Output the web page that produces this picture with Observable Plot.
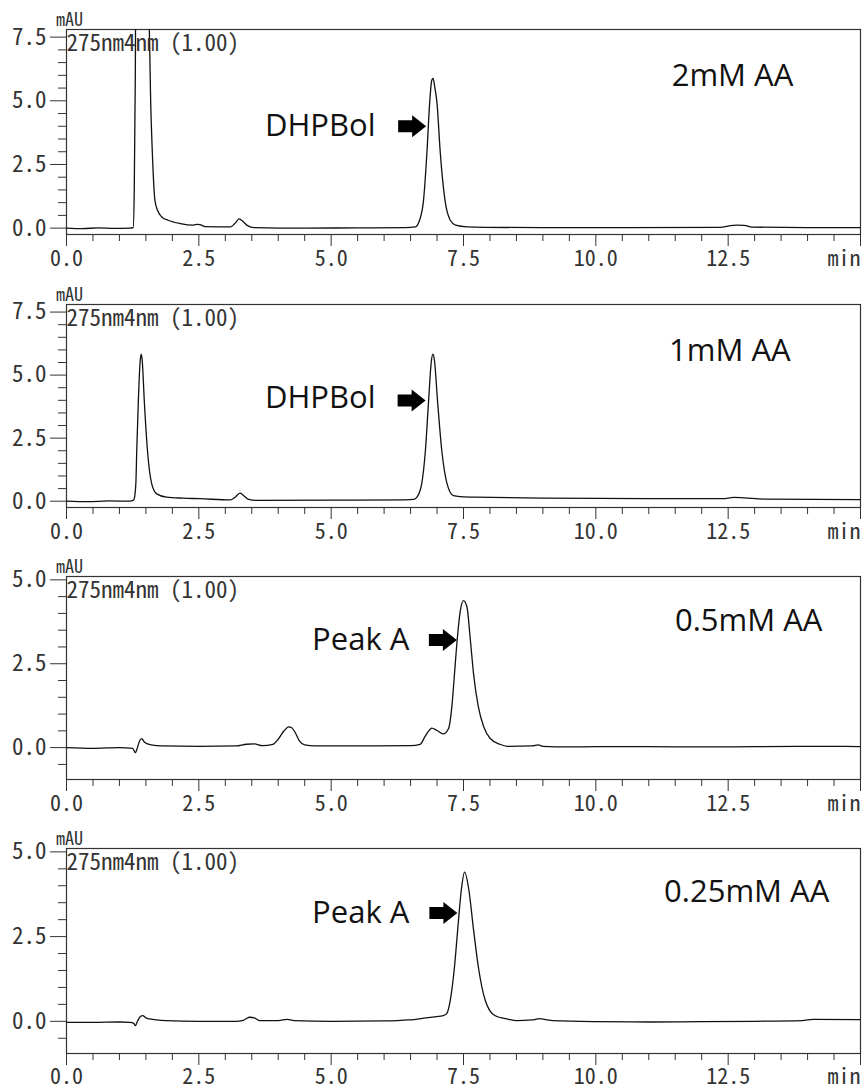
<!DOCTYPE html>
<html><head><meta charset="utf-8">
<script src="https://cdn.jsdelivr.net/npm/d3@7"></script>
<script src="https://cdn.jsdelivr.net/npm/@observablehq/plot@0.6"></script>
<style>
body{margin:0;background:#fff;}
#chart{width:864px;}
#chart svg{display:block;}
</style></head><body><div id="chart"></div>
<script>
// ---- data: [time (min), absorbance (mAU)] ----
const trace2mM = [[0,0.0],[0.3,-0.02],[0.6,0.01],[0.9,-0.01],[1.2,0.0],[1.26,0.02],[1.28,1.5],[1.30,6.0],[1.31,10],[1.55,10],[1.565,7.8],[1.59,5.0],[1.62,3.06],[1.67,1.1],[1.72,0.7],[1.80,0.44],[1.92,0.31],[2.15,0.18],[2.40,0.12],[2.47,0.15],[2.52,0.14],[2.62,0.06],[3.10,0.05],[3.18,0.18],[3.26,0.36],[3.34,0.25],[3.42,0.1],[3.55,0.02],[4.5,0.0],[5.5,0.01],[6.4,0.02],[6.59,0.05],[6.67,0.31],[6.745,1.1],[6.81,3.0],[6.86,4.9],[6.90,5.8],[6.925,5.88],[6.96,5.5],[7.0,4.9],[7.06,3.0],[7.15,1.1],[7.25,0.31],[7.35,0.12],[7.57,0.05],[7.9,0.03],[9,0.02],[10.5,0.02],[12.35,0.03],[12.5,0.08],[12.65,0.12],[12.8,0.11],[12.95,0.04],[14,0.02],[15,0.02]];
const trace1mM = [[0,0.0],[0.4,-0.02],[0.8,0.01],[1.2,0.0],[1.26,0.03],[1.28,0.1],[1.31,0.69],[1.327,2.0],[1.357,3.96],[1.39,5.5],[1.41,5.83],[1.43,5.6],[1.47,3.96],[1.53,2.0],[1.61,0.69],[1.705,0.29],[1.89,0.16],[2.2,0.12],[2.52,0.1],[3.1,0.05],[3.18,0.15],[3.28,0.32],[3.36,0.2],[3.44,0.07],[3.6,0.03],[5,0.04],[6.4,0.05],[6.56,0.07],[6.62,0.16],[6.71,0.69],[6.78,2.0],[6.84,3.96],[6.89,5.5],[6.92,5.83],[6.95,5.6],[7.01,3.96],[7.09,2.0],[7.19,0.69],[7.31,0.22],[7.5,0.17],[7.69,0.16],[9,0.12],[11,0.1],[12.4,0.1],[12.6,0.15],[12.8,0.13],[13.2,0.08],[15,0.06]];
const trace05mM = [[0,0.0],[0.5,-0.02],[1.0,0.0],[1.25,-0.02],[1.3,-0.15],[1.33,-0.05],[1.38,0.2],[1.42,0.27],[1.48,0.15],[1.6,0.08],[1.8,0.05],[2.5,0.04],[3.2,0.05],[3.4,0.1],[3.55,0.11],[3.7,0.06],[3.9,0.1],[4.0,0.25],[4.1,0.48],[4.2,0.62],[4.25,0.6],[4.32,0.45],[4.4,0.2],[4.5,0.08],[4.7,0.05],[5.5,0.05],[6.5,0.06],[6.68,0.1],[6.78,0.35],[6.87,0.55],[6.9,0.58],[7.0,0.51],[7.12,0.41],[7.22,0.58],[7.28,1.22],[7.33,2.2],[7.38,3.2],[7.44,4.08],[7.50,4.38],[7.565,4.19],[7.63,3.2],[7.69,2.2],[7.78,1.22],[7.88,0.63],[8.0,0.28],[8.19,0.1],[8.32,0.04],[8.8,0.05],[8.91,0.08],[9.0,0.04],[9.5,0.02],[10,0.03],[11,0.03],[12,0.02],[13,0.03],[14,0.04],[15,0.03]];
const trace025mM = [[0,-0.03],[0.5,-0.03],[1.0,-0.02],[1.2,-0.03],[1.27,-0.06],[1.30,-0.13],[1.34,0.0],[1.4,0.15],[1.44,0.17],[1.5,0.1],[1.56,0.07],[1.88,0.02],[2.5,0.0],[3.2,0.0],[3.34,0.03],[3.46,0.12],[3.55,0.1],[3.65,0.02],[4.0,0.02],[4.17,0.06],[4.3,0.02],[5,0.0],[6,0.01],[6.47,0.04],[6.79,0.1],[6.99,0.14],[7.1,0.16],[7.18,0.22],[7.25,0.62],[7.33,1.61],[7.39,2.7],[7.46,3.89],[7.52,4.40],[7.60,3.89],[7.69,2.7],[7.78,1.61],[7.91,0.62],[8.09,0.17],[8.35,0.06],[8.5,0.02],[8.8,0.04],[8.93,0.08],[9.05,0.05],[9.19,0.02],[10,-0.01],[11,-0.02],[12,-0.01],[13,0.0],[13.9,0.02],[14.1,0.06],[15,0.05]];

const sampleLabels = ["2mM AA", "1mM AA", "0.5mM AA", "0.25mM AA"];
const peakLabels = ["DHPBol", "DHPBol", "Peak A", "Peak A"];
const channelLabel = "275nm4nm (1.00)";
const yUnit = "mAU";
const xUnit = "min";

const xMajor = [0, 2.5, 5, 7.5, 10, 12.5, 15];
const xMinor = d3.range(0, 15.01, 0.5);
const yMajorHigh = [0, 2.5, 5, 7.5];
const yMajorLow = [0, 2.5, 5];
const yDomainHigh = [-0.25, 7.8];
const yDomainLow = [-0.95, 5.1];

// annotation anchor points in data units
const sampleLabelPos = [[13.73, 5.6], [13.68, 5.54], [14.28, 3.49], [14.41, 3.51]];
const peakLabelPos = [[3.75, 3.6], [3.75, 3.69], [4.64, 2.9], [4.64, 2.91]];
const arrowPos = [[6.53, 4.0], [6.52, 3.99], [7.11, 3.21], [7.12, 3.2]];

const traces = [trace2mM, trace1mM, trace05mM, trace025mM];
const heights = [275, 272, 272, 273];
const areas = [205, 203, 203, 205];
const labelPads = [4, 4, 4, 3];

const mono = "'Noto Sans Mono CJK JP', 'DejaVu Sans Mono', monospace";
const sans = "'Open Sans', sans-serif";
const ink = "#333";

// block arrow symbol (scaled by the dot radius)
const blockArrow = {
  draw(ctx, size) {
    const r = Math.sqrt(size / Math.PI);
    const s = r / 14;
    ctx.moveTo(-14 * s, -6 * s);
    ctx.lineTo(0, -6 * s);
    ctx.lineTo(0, -11 * s);
    ctx.lineTo(14 * s, 0);
    ctx.lineTo(0, 11 * s);
    ctx.lineTo(0, 6 * s);
    ctx.lineTo(-14 * s, 6 * s);
    ctx.closePath();
  }
};

traces.forEach((trace, i) => {
  const high = i < 2;
  const yDom = high ? yDomainHigh : yDomainLow;
  const yMajor = high ? yMajorHigh : yMajorLow;
  const yMinor = d3.range(Math.ceil(yDom[0] * 2) / 2, yDom[1] + 0.001, 0.5).filter(v => !yMajor.includes(v));
  const plot = Plot.plot({
    width: 864,
    height: heights[i],
    marginLeft: 66,
    marginRight: 4,
    marginTop: 29,
    marginBottom: heights[i] - 29 - areas[i],
    style: {fontFamily: mono, fontSize: "22px", color: ink, background: "#fff"},
    x: {domain: [0, 15], axis: null},
    y: {domain: yDom, axis: null},
    marks: [
      Plot.axisX({ticks: xMinor.filter(v => !xMajor.includes(v)), tickSize: 7, tickFormat: () => "", stroke: ink, label: null}),
      Plot.axisX({ticks: xMajor, tickSize: 12, tickPadding: labelPads[i], tickFormat: d => d < 15 ? d.toFixed(1) : "", stroke: ink, label: null, fontSize: 22}),
      Plot.axisY({ticks: yMinor, tickSize: 8, tickFormat: () => "", stroke: ink, label: null}),
      Plot.axisY({ticks: yMajor, tickSize: 16, tickPadding: 4, tickFormat: d => d.toFixed(1), stroke: ink, label: null, fontSize: 23}),
      Plot.frame({stroke: ink, strokeWidth: 1.2}),
      Plot.line(trace, {x: d => d[0], y: d => d[1], stroke: "#111", strokeWidth: 1.3, curve: "monotone-x", clip: true}),
      Plot.text([yUnit], {frameAnchor: "top-left", text: d => d, dx: 3, dy: -4, lineAnchor: "bottom", textAnchor: "middle", fontSize: 18}),
      Plot.text([channelLabel], {frameAnchor: "top-left", text: d => d, dx: 0, dy: 5, lineAnchor: "top", textAnchor: "start", fontSize: 23}),
      Plot.text([xUnit], {frameAnchor: "bottom-right", text: d => d, dx: 0, dy: 12 + labelPads[i], lineAnchor: "top", textAnchor: "end", fontSize: 22}),
      Plot.text([sampleLabelPos[i]], {x: d => d[0], y: d => d[1], text: () => sampleLabels[i], textAnchor: "end", lineAnchor: "bottom", fontFamily: sans, fontSize: 31, fill: "#111"}),
      Plot.text([peakLabelPos[i]], {x: d => d[0], y: d => d[1], text: () => peakLabels[i], textAnchor: "start", lineAnchor: "bottom", fontFamily: sans, fontSize: 31, fill: "#111"}),
      Plot.dot([arrowPos[i]], {x: d => d[0], y: d => d[1], symbol: blockArrow, r: 14, fill: "#000", stroke: null})
    ]
  });
  document.getElementById("chart").appendChild(plot);
});
</script></body></html>
